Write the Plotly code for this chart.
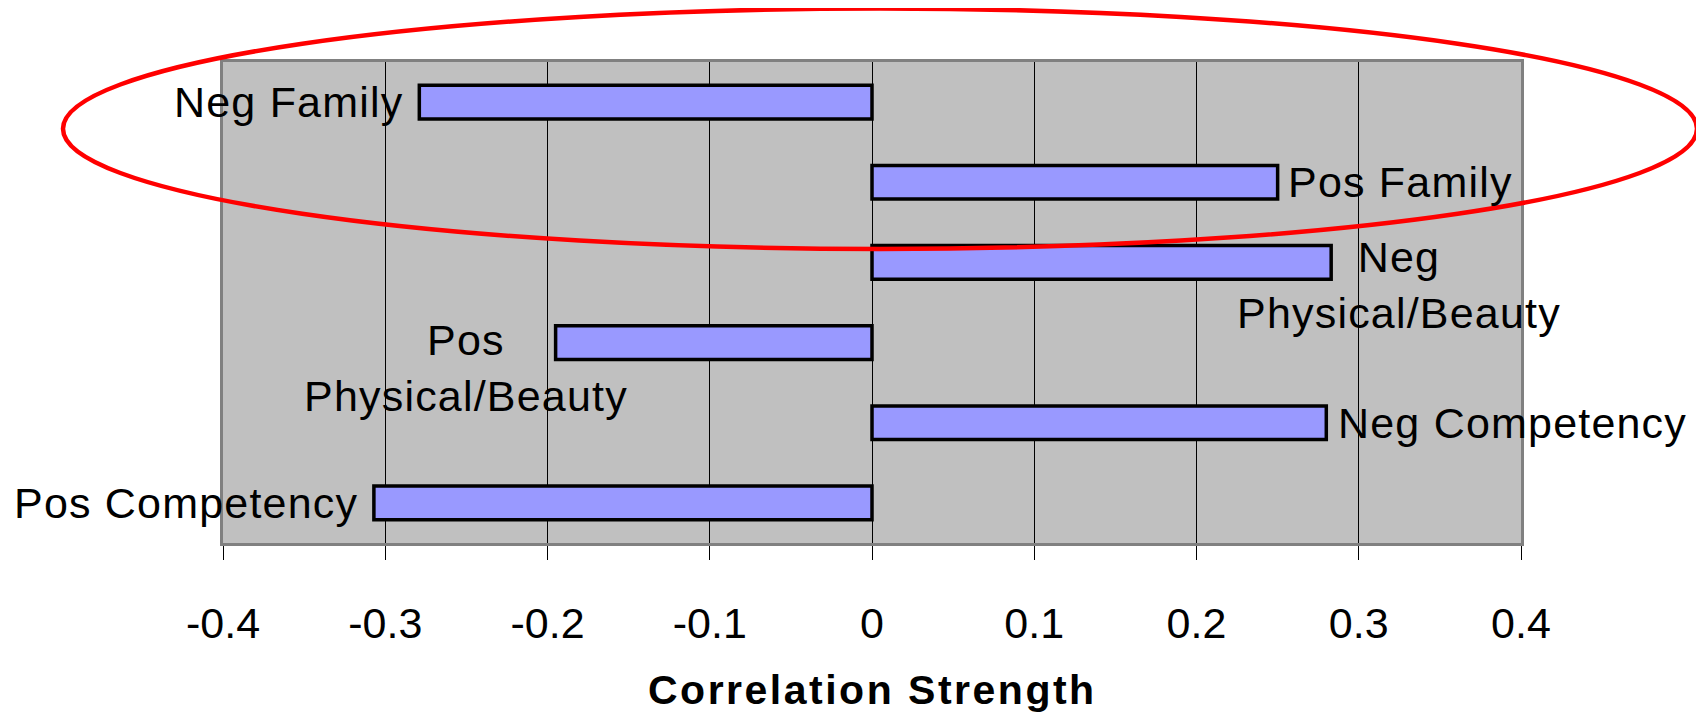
import plotly.graph_objects as go

# ---- data ----
categories = ["Neg Family", "Pos Family", "Neg Physical/Beauty",
              "Pos Physical/Beauty", "Neg Competency", "Pos Competency"]
values = [-0.279, 0.250, 0.283, -0.195, 0.280, -0.307]
label_lines = [["Neg Family"], ["Pos Family"], ["Neg", "Physical/Beauty"],
               ["Pos", "Physical/Beauty"], ["Neg Competency"], ["Pos Competency"]]
tick_vals = [-0.4, -0.3, -0.2, -0.1, 0, 0.1, 0.2, 0.3, 0.4]
tick_text = ["-0.4", "-0.3", "-0.2", "-0.1", "0", "0.1", "0.2", "0.3", "0.4"]
x_title = "Correlation Strength"

# ---- label placement (style) ----
label_style = [
    dict(xanchor="right", xshift=-14, yshift=0),
    dict(xanchor="left", xshift=8, yshift=0),
    dict(xanchor="center", xshift=68, yshift=-23),
    dict(xanchor="center", xshift=-90, yshift=-25),
    dict(xanchor="left", xshift=10, yshift=0),
    dict(xanchor="right", xshift=-14, yshift=0),
]

OFF = 8  # browser default body margin
W, H = 1704 - OFF, 713 - OFF
ML, MT = 223 - OFF, 62 - OFF
MR, MB = 183, 170
pw = W - ML - MR
ph = H - MT - MB
FONT = "Liberation Sans, Arial, sans-serif"


def px_to_paper_x(px):
    return (px - OFF - ML) / pw


def px_to_paper_y(py):
    return (H - MB - (py - OFF)) / ph


def spaced(line, sp):
    return "<span style='letter-spacing:%spx'>%s</span>" % (sp, line)


fig = go.Figure()
fig.add_trace(go.Bar(
    y=categories, x=values, orientation="h",
    marker=dict(color="#9999FF", line=dict(color="black", width=3.5)),
    hoverinfo="skip",
))

for cat, val, lines, st in zip(categories, values, label_lines, label_style):
    fig.add_annotation(
        x=val, y=cat, xref="x", yref="y",
        text="<br>".join(spaced(l, 1.2) for l in lines), showarrow=False,
        xanchor=st["xanchor"], yanchor="middle",
        xshift=st["xshift"], yshift=st["yshift"],
        align="center", font=dict(family=FONT, size=43, color="black"),
    )

# axis title
fig.add_annotation(
    x=0.5, y=px_to_paper_y(690), xref="paper", yref="paper",
    text="<b>%s</b>" % spaced(x_title, 2.5),
    showarrow=False, font=dict(family=FONT, size=41, color="black"),
    xanchor="center", yanchor="middle",
)

# red ellipse highlighting the family rows
fig.add_shape(
    type="circle", xref="paper", yref="paper",
    x0=px_to_paper_x(63), x1=px_to_paper_x(1697),
    y0=px_to_paper_y(249), y1=px_to_paper_y(8.5),
    line=dict(color="#FF0000", width=4.5), layer="above",
)

fig.update_layout(
    width=W, height=H,
    margin=dict(l=ML, r=MR, t=MT, b=MB),
    paper_bgcolor="white", plot_bgcolor="#C0C0C0",
    bargap=0.58, showlegend=False,
    font=dict(family=FONT, size=43, color="black"),
)
fig.update_xaxes(
    range=[-0.4, 0.4], tickvals=tick_vals, ticktext=tick_text,
    showgrid=True, gridcolor="#000000", gridwidth=1,
    zeroline=True, zerolinecolor="#000000", zerolinewidth=1,
    showline=True, mirror=True, linecolor="#808080", linewidth=3,
    ticks="outside", ticklen=14, tickcolor="#000000", tickwidth=1,
    tickfont=dict(family=FONT, size=43, color="black"),
    ticklabelstandoff=26,
)
fig.update_yaxes(
    type="category", autorange=False, range=[5.5, -0.5],
    showticklabels=False, showgrid=False, zeroline=False,
    showline=True, mirror=True, linecolor="#808080", linewidth=3,
    ticks="",
)

fig.write_html("out.html")
